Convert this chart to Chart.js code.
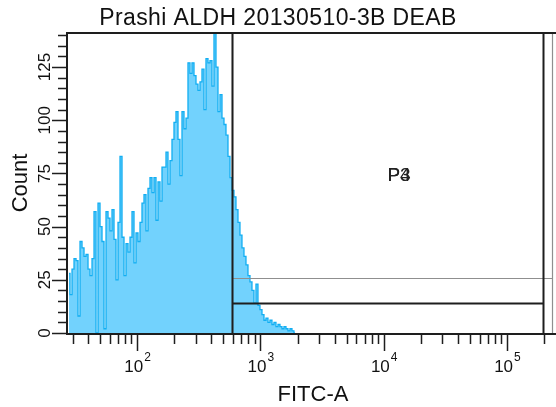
<!DOCTYPE html>
<html><head><meta charset="utf-8">
<script src="https://cdn.jsdelivr.net/npm/chart.js@4/dist/chart.umd.min.js"></script>
<style>html,body{margin:0;padding:0;background:#fff;overflow:hidden}#wrap{width:556px;height:407px;position:relative}</style>
</head><body><div id="wrap"><canvas id="c" width="556" height="407"></canvas></div>
<script>
// ---- text ----
const TITLE = 'Prashi ALDH 20130510-3B DEAB';
const X_LABEL = 'FITC-A';
const Y_LABEL = 'Count';
// ---- axis ranges ----
const X_MIN = 27.5, X_MAX = 250000;
const Y_MIN = 0, Y_MAX = 141;
// ---- histogram bins (log-spaced) ----
const BIN_LOG_START = 1.4395;
const BIN_LOG_WIDTH = 0.01622;
const counts = [
  28, 18, 30, 35, 34, 8, 43, 40, 36, 37,
  30, 27, 35, 57, 0, 61, 50, 43, 2, 57,
  54, 48, 58, 44, 25, 52, 83, 45, 27, 42,
  38, 45, 57, 33, 47, 43, 52, 61, 65, 48,
  68, 73, 66, 73, 53, 71, 62, 78, 78, 85,
  70, 81, 91, 99, 104, 91, 74, 104, 96, 101,
  127, 122, 127, 121, 117, 114, 118, 124, 105, 129,
  127, 128, 116, 141, 125, 104, 112, 101, 98, 93,
  83, 73, 67, 64, 58, 52, 46, 40, 36, 32,
  27, 24, 20, 14, 23, 13, 11, 8.6, 6, 7,
  5, 6, 4, 5, 3, 4, 3, 2, 3, 2,
  1, 2, 1, 0
];
// ---- ticks ----
const xMajorTicks = [100, 1000, 10000, 100000];
const xTickBase = ['10', '10', '10', '10'];
const xTickExp = ['2', '3', '4', '5'];
const yMajorTicks = [0, 25, 50, 75, 100, 125];
const yTickLabels = ['0', '25', '50', '75', '100', '125'];
const Y_MINOR_STEP = 5;
// ---- range gates ----
const gateNames = ['P3', 'P4'];
const gateXMin = [590, 590];
const gateXMax = [196000, 232000];
const gateLevel = [14.1, 25.8];

const GATE_STYLE = [{color: '#1e1e1e', width: 2}, {color: '#8f8f8f', width: 1.2}];
const FONT = '"Liberation Sans", Arial, sans-serif';

const points = counts.map((c, i) => ({x: Math.pow(10, BIN_LOG_START + (i + 0.5) * BIN_LOG_WIDTH), y: c}));

const decoPlugin = {
  id: 'deco',
  afterDatasetsDraw(chart) {
    const {ctx, chartArea: a, scales: {x, y}} = chart;
    ctx.save();
    // draw P4 (grey) first so the black P3 lines sit on top
    [1, 0].forEach(g => {
      const st = GATE_STYLE[g];
      const x0 = Math.round(x.getPixelForValue(gateXMin[g])) + 0.5;
      const x1 = Math.round(x.getPixelForValue(gateXMax[g])) + 0.5;
      const yy = Math.round(y.getPixelForValue(gateLevel[g])) + 0.5;
      ctx.strokeStyle = st.color; ctx.lineWidth = st.width;
      ctx.beginPath();
      ctx.moveTo(x0, a.top); ctx.lineTo(x0, a.bottom);
      ctx.moveTo(x1, a.top); ctx.lineTo(x1, a.bottom);
      ctx.moveTo(x0, yy); ctx.lineTo(x1, yy);
      ctx.stroke();
    });
    // gate labels (overlapping, as in the reference)
    ctx.fillStyle = '#222';
    ctx.font = '19px ' + FONT;
    ctx.textAlign = 'center'; ctx.textBaseline = 'middle';
    gateNames.forEach(n => ctx.fillText(n, 399, 176));
    ctx.restore();
  },
  afterDraw(chart) {
    const {ctx, chartArea: a, scales: {x, y}} = chart;
    ctx.save();
    ctx.strokeStyle = '#1e1e1e';
    ctx.lineWidth = 2;
    // frame: left, top, bottom
    ctx.beginPath();
    ctx.moveTo(a.left - 1, a.top); ctx.lineTo(a.left - 1, a.bottom + 1);
    ctx.moveTo(a.left - 2, a.top); ctx.lineTo(a.right, a.top);
    ctx.moveTo(a.left - 2, a.bottom + 1); ctx.lineTo(a.right, a.bottom + 1);
    ctx.stroke();
    // x ticks
    ctx.lineWidth = 1.5;
    ctx.beginPath();
    for (let d = 1; d <= 5; d++) {
      for (let m = 1; m <= 9; m++) {
        const v = m * Math.pow(10, d);
        if (v < X_MIN || v > X_MAX) continue;
        const px = Math.round(x.getPixelForValue(v)) + 0.5;
        const len = m === 1 ? 17 : 10;
        ctx.moveTo(px, a.bottom + 1); ctx.lineTo(px, a.bottom + 1 + len);
      }
    }
    // y ticks
    for (let v = Y_MIN; v <= Y_MAX; v += Y_MINOR_STEP) {
      const py = Math.round(y.getPixelForValue(v)) + 0.5;
      const len = yMajorTicks.includes(v) ? 15 : 9;
      ctx.moveTo(a.left - 1, py); ctx.lineTo(a.left - 1 - len, py);
    }
    ctx.stroke();
    // x tick labels
    ctx.fillStyle = '#111';
    xMajorTicks.forEach((v, i) => {
      const px = x.getPixelForValue(v);
      ctx.font = '17px ' + FONT;
      const wb = ctx.measureText(xTickBase[i]).width;
      ctx.font = '12px ' + FONT;
      const we = ctx.measureText(xTickExp[i]).width;
      const left = px - (wb + we) / 2;
      ctx.textAlign = 'left'; ctx.textBaseline = 'alphabetic';
      ctx.font = '17px ' + FONT;
      ctx.fillText(xTickBase[i], left, 372);
      ctx.font = '12px ' + FONT;
      ctx.fillText(xTickExp[i], left + wb + 1, 361);
    });
    // y tick labels (rotated)
    ctx.font = '17px ' + FONT;
    ctx.textAlign = 'center'; ctx.textBaseline = 'middle';
    yMajorTicks.forEach((v, i) => {
      const py = y.getPixelForValue(v);
      ctx.save();
      ctx.translate(45, py);
      ctx.rotate(-Math.PI / 2);
      ctx.fillText(yTickLabels[i], 0, 0);
      ctx.restore();
    });
    // axis titles and chart title
    ctx.textAlign = 'center'; ctx.textBaseline = 'alphabetic';
    ctx.font = '23px ' + FONT;
    if ('letterSpacing' in ctx) ctx.letterSpacing = '0.4px';
    ctx.fillText(TITLE, 278, 25);
    if ('letterSpacing' in ctx) ctx.letterSpacing = '0px';
    ctx.font = '22px ' + FONT;
    ctx.fillText(X_LABEL, 313, 401);
    ctx.save();
    ctx.translate(27, 183);
    ctx.rotate(-Math.PI / 2);
    ctx.fillText(Y_LABEL, 0, 0);
    ctx.restore();
    ctx.restore();
  }
};

new Chart(document.getElementById('c').getContext('2d'), {
  type: 'line',
  data: {datasets: [{
    data: points,
    stepped: 'middle',
    fill: 'origin',
    borderColor: '#12aef2',
    backgroundColor: '#72d2fd',
    borderWidth: 1.3,
    pointRadius: 0,
    tension: 0
  }]},
  options: {
    responsive: false,
    animation: false,
    devicePixelRatio: 1,
    layout: {padding: {left: 68, top: 33, right: 0, bottom: 74}},
    plugins: {legend: {display: false}, tooltip: {enabled: false}, title: {display: false}},
    scales: {
      x: {type: 'logarithmic', min: X_MIN, max: X_MAX, display: false},
      y: {type: 'linear', min: Y_MIN, max: Y_MAX, display: false}
    }
  },
  plugins: [decoPlugin]
});
</script></body></html>
